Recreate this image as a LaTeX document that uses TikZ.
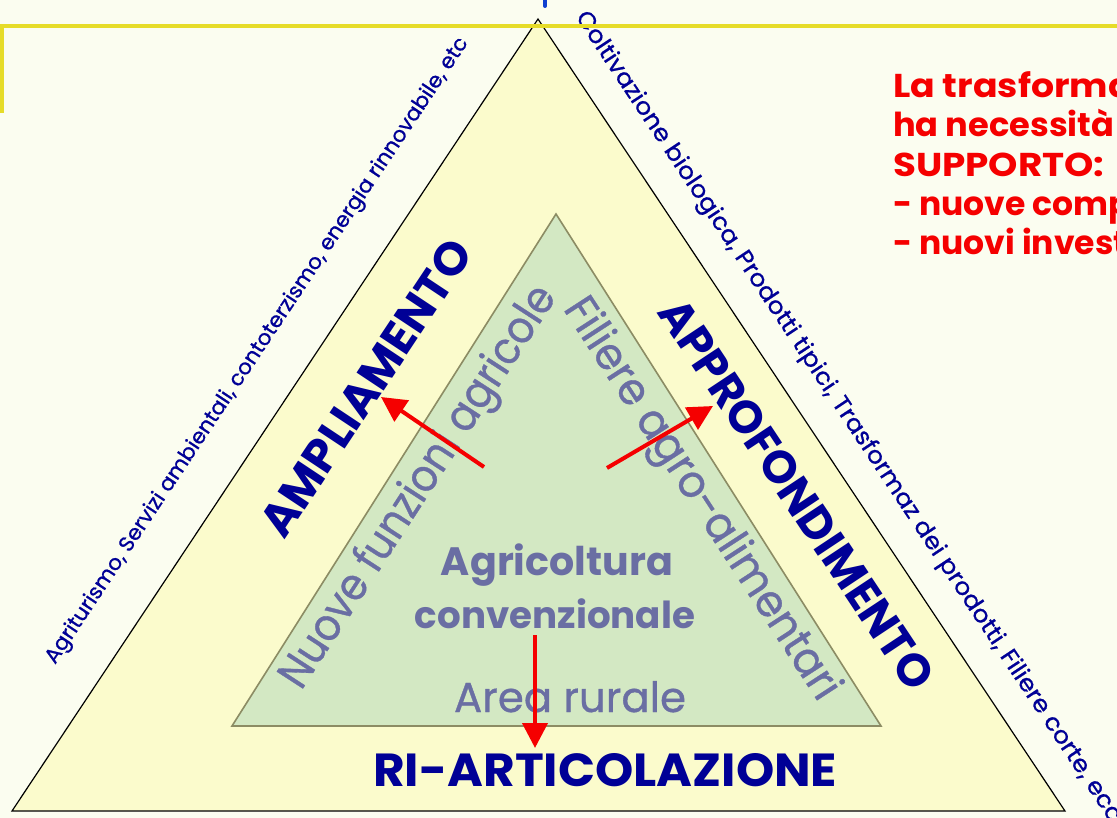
\documentclass[tikz,border=0pt]{standalone}
\usepackage{fontspec}
\setmainfont{Poppins}
\newfontfamily\heavy[FakeBold=0.8]{Poppins}
\usetikzlibrary{arrows.meta}
\definecolor{bg}{HTML}{FBFDF0}
\definecolor{outerfill}{HTML}{FBFBCC}
\definecolor{innerfill}{HTML}{D3E8C3}
\definecolor{innerline}{HTML}{8C8C64}
\definecolor{navy}{HTML}{000096}
\definecolor{inktext}{HTML}{6A6EA3}
\definecolor{ylw}{HTML}{E6DC28}
\definecolor{rd}{HTML}{F50000}
\definecolor{titleblue}{HTML}{1040D0}
\tikzset{
  lbl/.style={inner sep=0pt, text=navy, font=\bfseries},
  side/.style={inner sep=0pt, text=navy, font=\heavy},
  inner/.style={inner sep=0pt, text=inktext, font=\heavy},
  redarrow/.style={draw=rd, line width=4pt, -{Triangle[length=25pt,width=25pt]}},
  note/.style={anchor=base west, inner sep=0pt, text=rd, font=\fontsize{33}{40}\selectfont\bfseries}
}
\begin{document}
\begin{tikzpicture}[x=1pt,y=-1pt]
\useasboundingbox (0,0) rectangle (1117,818);
\fill[bg] (0,0) rectangle (1117,818);
\clip (0,0) rectangle (1117,818);
% outer triangle
\draw[fill=outerfill, line width=1.2pt] (538,19) -- (1065,811) -- (12,811) -- cycle;
% outer side texts
\node[side, anchor=base west, rotate=56.4] (lt) at (55,665)
  {\resizebox{747pt}{16pt}{Agriturismo, Servizi ambientali, contoterzismo, energia rinnovabile, etc}};
\node[side, anchor=base west, rotate=-56.4] (rt) at (575,17)
  {\resizebox{968pt}{18pt}{Coltivazione biologica, Prodotti tipici, Trasformaz dei prodotti, Filiere corte, ecc}};
% inner triangle
\draw[fill=innerfill, draw=innerline, line width=1.6pt] (556,214) -- (881,726) -- (232,726) -- cycle;
\node[inner, rotate=57] (nf) at (420,488) {\resizebox{470pt}{34pt}{Nuove funzioni agricole}};
\node[inner, rotate=-57] (fa) at (700,500) {\resizebox{470pt}{34pt}{Filiere agro-alimentari}};
\node[inner, anchor=base, font=\bfseries] (ag) at (557,575) {\resizebox{232pt}{!}{Agricoltura}};
\node[inner, anchor=base, font=\bfseries] (cv) at (555,628) {\resizebox{280pt}{!}{convenzionale}};
\node[inner, anchor=base] (ar) at (570,712) {\resizebox{232pt}{!}{Area rurale}};
% labels
\node[lbl, rotate=56.4] (ampl) at (366,388) {\resizebox{345pt}{33pt}{AMPLIAMENTO}};
\node[lbl, rotate=-56.4] (appr) at (797,494) {\resizebox{458pt}{33pt}{APPROFONDIMENTO}};
\node[lbl, anchor=base west] (riart) at (373,786) {\resizebox{464pt}{33pt}{RI-ARTICOLAZIONE}};
% arrows
\coordinate (a1s) at (484,467); \coordinate (a1e) at (381,397);
\coordinate (a2s) at (607,468); \coordinate (a2e) at (713,406);
\coordinate (a3s) at (535,635); \coordinate (a3e) at (535,748);
\draw[redarrow] (a1s) -- (a1e);
\draw[redarrow] (a2s) -- (a2e);
\draw[redarrow] (a3s) -- (a3e);
% red note
\node[note] (n1) at (893,98) {\scalebox{1.1}[1]{La trasforma}};
\node[note] (n2) at (893,137) {\scalebox{1.02}[1]{ha necessità}};
\node[note] (n3) at (893,177) {\scalebox{1.13}[1]{SUPPORTO:}};
\node[note] (n4) at (893,216) {- nuove comp};
\node[note] (n5) at (893,255) {- nuovi invest};
% frame lines
\draw[ylw, line width=4pt] (0,26) -- (1117,26);
\draw[ylw, line width=3.5pt] (2,26) -- (2,113);
\draw[titleblue, line width=4pt, line cap=round] (545,-5) -- (545,6);
\end{tikzpicture}
\end{document}
